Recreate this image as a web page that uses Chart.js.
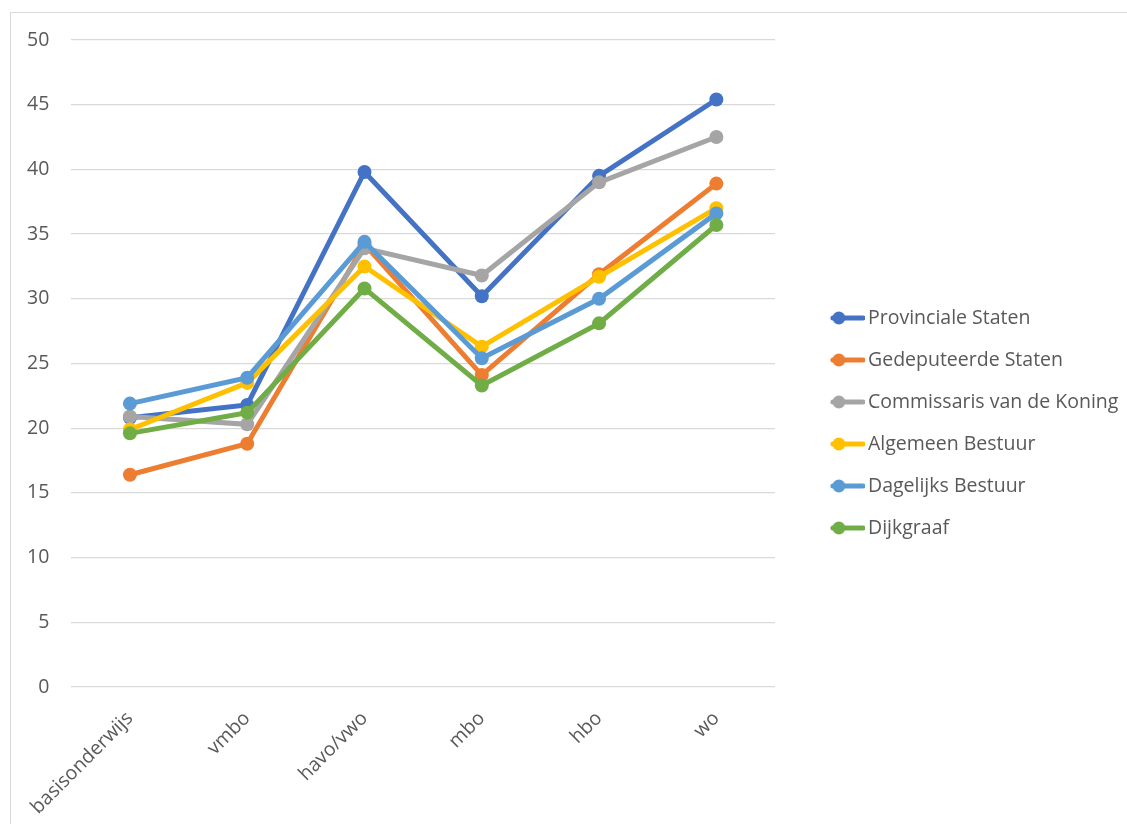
<!DOCTYPE html>
<html>
<head>
<meta charset="utf-8">
<script src="https://cdn.jsdelivr.net/npm/chart.js@4"></script>
<style>
  html, body { margin: 0; padding: 0; background: #ffffff; overflow: hidden; width: 1127px; height: 824px; }
  #frame { position: absolute; left: 10px; top: 12px; width: 1130px; height: 830px; border: 1px solid #d9d9d9; box-sizing: border-box; }
  #wrap { position: absolute; left: 11px; top: 13px; width: 1116px; height: 811px; }
</style>
</head>
<body>
<div id="frame"></div>
<div id="wrap"><canvas id="c"></canvas></div>
<script>
const categories = ['basisonderwijs', 'vmbo', 'havo/vwo', 'mbo', 'hbo', 'wo'];
const seriesNames = ['Provinciale Staten', 'Gedeputeerde Staten', 'Commissaris van de Koning', 'Algemeen Bestuur', 'Dagelijks Bestuur', 'Dijkgraaf'];
const provincialeStaten = [20.8, 21.8, 39.8, 30.2, 39.5, 45.4];
const gedeputeerdeStaten = [16.4, 18.8, 34.2, 24.1, 31.9, 38.9];
const commissaris = [20.9, 20.3, 33.9, 31.8, 39.0, 42.5];
const algemeenBestuur = [19.9, 23.5, 32.5, 26.3, 31.7, 37.0];
const dagelijksBestuur = [21.9, 23.9, 34.4, 25.4, 30.0, 36.6];
const dijkgraaf = [19.6, 21.2, 30.8, 23.3, 28.1, 35.7];
const yTicks = [0, 5, 10, 15, 20, 25, 30, 35, 40, 45, 50];
const colors = ['#4472C4', '#ED7D31', '#A5A5A5', '#FFC000', '#5B9BD5', '#70AD47'];

const seriesValues = [provincialeStaten, gedeputeerdeStaten, commissaris, algemeenBestuur, dagelijksBestuur, dijkgraaf];

function legendMarker(color) {
  const cv = document.createElement('canvas');
  cv.width = 74; cv.height = 16;
  const g = cv.getContext('2d');
  g.strokeStyle = color; g.lineWidth = 5; g.lineCap = 'round';
  g.beginPath(); g.moveTo(42, 8); g.lineTo(72, 8); g.stroke();
  g.fillStyle = color;
  g.beginPath(); g.arc(48, 8, 6.5, 0, Math.PI * 2); g.fill();
  return cv;
}

const datasets = seriesNames.map((name, i) => ({
  label: name,
  data: seriesValues[i],
  borderColor: colors[i],
  backgroundColor: colors[i],
  borderWidth: 5,
  pointRadius: 7,
  pointHoverRadius: 7,
  pointBorderWidth: 0,
  tension: 0,
  order: seriesNames.length - i
}));

const FONT = '"Open Sans", sans-serif';
const FS = 19.5;

const legendShift = {
  id: 'legendShift',
  afterLayout(chart) {
    if (chart.legend) {
      chart.legend.top -= 9;
      chart.legend.bottom -= 9;
    }
  }
};

new Chart(document.getElementById('c'), {
  type: 'line',
  data: { labels: categories, datasets: datasets },
  plugins: [legendShift],
  options: {
    responsive: true,
    maintainAspectRatio: false,
    animation: false,
    layout: { padding: { top: 27, left: 16, right: 0, bottom: 0 } },
    plugins: {
      tooltip: { enabled: false },
      legend: {
        position: 'right',
        maxWidth: 352,
        labels: {
          usePointStyle: true,
          pointStyleWidth: 60.75,
          padding: 22.5,
          color: '#595959',
          font: { family: FONT, size: FS },
          sort: (a, b) => a.datasetIndex - b.datasetIndex,
          generateLabels: (chart) => {
            const items = Chart.defaults.plugins.legend.labels.generateLabels(chart);
            items.forEach(it => { it.pointStyle = legendMarker(colors[it.datasetIndex]); });
            return items;
          }
        }
      }
    },
    scales: {
      x: {
        offset: true,
        grid: { display: false, drawTicks: false },
        border: { display: false },
        afterFit: (scale) => {
          scale.paddingLeft = 0;
          scale.paddingRight = 0;
          scale.height = scale.height - 15;
        },
        ticks: {
          color: '#595959',
          font: { family: FONT, size: FS },
          minRotation: 45,
          maxRotation: 45,
          padding: 20
        }
      },
      y: {
        min: 0,
        max: 50,
        afterBuildTicks: (axis) => { axis.ticks = yTicks.map(v => ({ value: v })); },
        afterFit: (scale) => {
          scale.width = scale.width - 22;
          scale.paddingTop = 0;
          scale.paddingBottom = 0;
        },
        grid: { color: '#d9d9d9', lineWidth: 1.3, drawTicks: false },
        border: { display: false },
        ticks: {
          color: '#595959',
          font: { family: FONT, size: FS },
          padding: 22
        }
      }
    }
  }
});
</script>
</body>
</html>
